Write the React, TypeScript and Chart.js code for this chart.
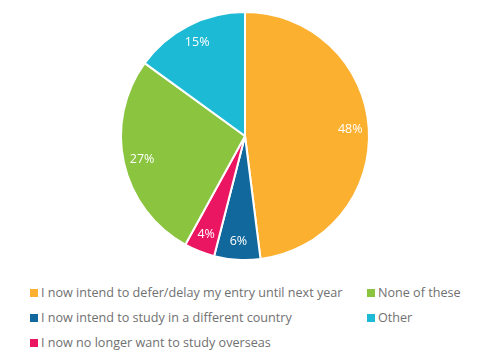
import React, { useEffect, useRef } from "react";
import { Chart, registerables } from "chart.js";

Chart.register(...registerables);

const labels = [
  "I now intend to defer/delay my entry until next year",
  "I now intend to study in a different country",
  "I now no longer want to study overseas",
  "None of these",
  "Other",
];
const values = [48, 6, 4, 27, 15];
const colors = ["#FBB02F", "#11689C", "#EB1661", "#8BC43F", "#1DBAD5"];
// legend order (column-major as in reference)
const legendCol1 = [0, 1, 2];
const legendCol2 = [3, 4];

const FONT = "'Open Sans', sans-serif";

const pctLabels = {
  id: "pctLabels",
  afterDatasetsDraw(chart: any) {
    const ctx = chart.ctx;
    const meta = chart.getDatasetMeta(0);
    ctx.save();
    ctx.fillStyle = "#ffffff";
    ctx.font = `12.5px ${FONT}`;
    ctx.textAlign = "center";
    ctx.textBaseline = "middle";
    meta.data.forEach((arc: any, i: number) => {
      const p = arc.getProps(["x", "y", "startAngle", "endAngle", "outerRadius"], true);
      const mid = (p.startAngle + p.endAngle) / 2;
      const r = p.outerRadius * 0.85;
      ctx.fillText(values[i] + "%", p.x + Math.cos(mid) * r, p.y + Math.sin(mid) * r);
    });
    ctx.restore();
  },
};

export default function App() {
  const ref = useRef<HTMLCanvasElement | null>(null);
  useEffect(() => {
    if (!ref.current) return;
    const chart = new Chart(ref.current, {
      type: "pie",
      data: {
        labels,
        datasets: [
          {
            data: values,
            backgroundColor: colors,
            borderColor: "#ffffff",
            borderWidth: 2,
          },
        ],
      },
      options: {
        animation: false,
        responsive: false,
        layout: { padding: { top: 3, bottom: 7, left: 0, right: 5 } },
        plugins: { legend: { display: false }, tooltip: { enabled: false } },
      },
      plugins: [pctLabels],
    });
    return () => chart.destroy();
  }, []);

  const item = (i: number, x: number, y: number) => (
    <div
      key={i}
      style={{
        position: "absolute",
        left: x,
        top: y,
        display: "flex",
        alignItems: "center",
        whiteSpace: "nowrap",
        fontFamily: FONT,
        fontSize: 12.6,
        color: "#707070",
        lineHeight: "16px",
      }}
    >
      <span
        style={{
          display: "inline-block",
          width: 8,
          height: 8,
          background: colors[i],
          marginRight: 3,
        }}
      />
      {labels[i]}
    </div>
  );

  return (
    <div style={{ position: "relative", width: 479, height: 347 }}>
      <canvas ref={ref} width={479} height={260} style={{ display: "block" }} />
      {legendCol1.map((i, k) => item(i, 22, 277 + k * 25))}
      {legendCol2.map((i, k) => item(i, 359, 277 + k * 25))}
    </div>
  );
}
